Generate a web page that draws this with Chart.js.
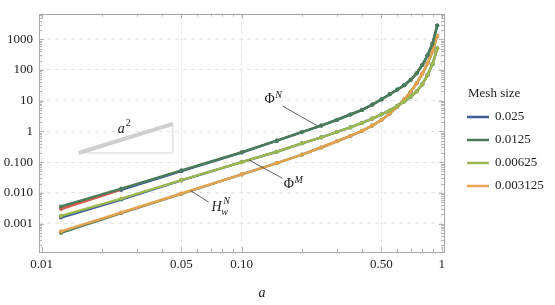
<!DOCTYPE html>
<html>
<head>
<meta charset="utf-8">
<script src="https://cdn.jsdelivr.net/npm/chart.js@4"></script>
<style>
  html, body { margin: 0; padding: 0; background: #fff; }
  #wrap { width: 555px; height: 305px; }
</style>
</head>
<body>
<div id="wrap"><canvas id="chart" width="555" height="305"></canvas></div>
<script>
// crack length a (x) and the three quantities per mesh size
const aValues = [0.0125, 0.025, 0.05, 0.1, 0.15, 0.2, 0.25, 0.3, 0.35, 0.4, 0.45,
                 0.5, 0.55, 0.6, 0.65, 0.7, 0.75, 0.8, 0.85, 0.9, 0.95];

const phiN_0125 = [0.0036, 0.0138, 0.054, 0.21, 0.5, 0.95, 1.55, 2.4, 3.55, 5.0, 7.4,
                   11, 16.3, 23, 32, 48, 78, 145, 300, 720, 2800];
const phiN_025  = [null, 0.0126, 0.051, 0.205, 0.5, 0.95, 1.55, 2.4, 3.55, 5.0, 7.4,
                   11, 16.3, 23, 32, 48, 78, 145, 300, 720, 2800];
const phiN_red  = [0.0030, 0.0128];

const phiM_00625 = [0.00178, 0.0065, 0.026, 0.1, 0.218, 0.41, 0.64, 0.97, 1.35, 1.9, 2.6,
                    3.6, 4.8, 6.8, 9.5, 13.5, 20, 34, 68, 155, 506];
const phiM_025   = [0.00158, 0.0061, 0.0255, 0.1, 0.218, 0.41, 0.64, 0.97, 1.35, 1.9, 2.6,
                    3.6, 4.8, 6.8, 9.5, 13.5, 20, 34, 68, 155, 506];

const hw_003125 = [0.00056, 0.0023, 0.0095, 0.04, 0.093, 0.175, 0.30, 0.48, 0.72, 1.05, 1.55,
                   2.35, 3.8, 6.4, 11, 19.5, 37, 75, 165, 400, 1280];
const hw_0125   = [0.00050, 0.0022, 0.0093, 0.04, 0.093, 0.175, 0.30, 0.48, 0.72, 1.05, 1.55,
                   2.35, 3.8, 6.4, 11, 19.5, 37, 75, 165, 400, 1280];

// a^2 slope guide
const slopeX = [0.0153, 0.0453];
const slopeY = [0.199, 1.75];

const meshSizes  = ['0.025', '0.0125', '0.00625', '0.003125'];
const meshColors = ['#3f5f9e', '#4b7c58', '#9db84d', '#e5a24f'];
const redColor = '#d65a4a';

const xTickValues = [0.01, 0.05, 0.1, 0.5, 1];
const xTickLabels = ['0.01', '0.05', '0.10', '0.50', '1'];
const yTickValues = [0.001, 0.01, 0.1, 1, 10, 100, 1000];
const yTickLabels = ['0.001', '0.010', '0.100', '1', '10', '100', '1000'];

const FONT = '"Liberation Serif", "DejaVu Serif", serif';

function pts(xs, ys) {
  return ys.map((v, i) => ({ x: xs[i], y: v })).filter(p => p.y !== null);
}

function series(data, color, order) {
  return {
    data, borderColor: color, backgroundColor: color,
    pointBackgroundColor: color, pointBorderColor: color,
    borderWidth: 2.5, pointRadius: 2.1, pointBorderWidth: 0, tension: 0, order
  };
}

const datasets = [
  series(pts(aValues, phiN_0125), meshColors[1], 1),
  series(pts(aValues, phiN_025), meshColors[0], 5),
  series(pts(aValues, phiN_red), redColor, 6),
  series(pts(aValues, phiM_00625), meshColors[2], 2),
  series(pts(aValues, phiM_025), meshColors[0], 7),
  series(pts(aValues, hw_003125), meshColors[3], 3),
  series(pts(aValues, hw_0125), meshColors[1], 8),
  { data: pts(slopeX, slopeY), borderColor: '#cfcfcf', borderWidth: 4, pointRadius: 0, order: 9 },
  { data: [{ x: slopeX[0], y: slopeY[0] }, { x: slopeX[1], y: slopeY[0] }, { x: slopeX[1], y: slopeY[1] }],
    borderColor: '#d4d4d4', borderWidth: 1, pointRadius: 0, order: 10 }
];

// frame, minor ticks, labels, legend
const decor = {
  id: 'decor',
  beforeDatasetsDraw(chart) {
    const { ctx, chartArea: ca, scales: { x, y } } = chart;
    ctx.save();
    ctx.strokeStyle = '#b5b5b5';
    ctx.lineWidth = 1;
    const xm = [];
    for (let e = -2; e <= -1; e++) for (let m = 1; m <= 9; m++) xm.push(m * Math.pow(10, e));
    xm.push(1);
    xm.forEach(v => {
      const p = Math.round(x.getPixelForValue(v)) + 0.5;
      if (p < ca.left || p > ca.right) return;
      const len = [0.01, 0.05, 0.1, 0.5, 1].some(t => Math.abs(t - v) < 1e-9) ? 5 : 3;
      ctx.beginPath();
      ctx.moveTo(p, ca.bottom); ctx.lineTo(p, ca.bottom - len);
      ctx.moveTo(p, ca.top); ctx.lineTo(p, ca.top + len);
      ctx.stroke();
    });
    for (let e = -4; e <= 3; e++) {
      for (let m = 1; m <= 9; m++) {
        const v = m * Math.pow(10, e);
        const p = Math.round(y.getPixelForValue(v)) + 0.5;
        if (p < ca.top || p > ca.bottom) continue;
        const len = m === 1 ? 5 : 3;
        ctx.beginPath();
        ctx.moveTo(ca.left, p); ctx.lineTo(ca.left + len, p);
        ctx.moveTo(ca.right, p); ctx.lineTo(ca.right - len, p);
        ctx.stroke();
      }
    }
    ctx.strokeStyle = '#a8a8a8';
    ctx.strokeRect(Math.round(ca.left) + 0.5, Math.round(ca.top) + 0.5,
                   Math.round(ca.right - ca.left), Math.round(ca.bottom - ca.top));
    ctx.restore();
  },
  afterDatasetsDraw(chart) {
    const { ctx, scales: { x, y } } = chart;
    const P = (a, b) => [x.getPixelForValue(a), y.getPixelForValue(b)];
    ctx.save();
    // leader lines
    ctx.strokeStyle = '#3a3a3a';
    ctx.lineWidth = 0.8;
    [[[0.160, 6.74], [0.240, 1.5]],
     [[0.1084, 0.119], [0.160, 0.0297]],
     [[0.0555, 0.0118], [0.0684, 0.0050]]].forEach(([s, e]) => {
      const [x1, y1] = P(s[0], s[1]);
      const [x2, y2] = P(e[0], e[1]);
      ctx.beginPath(); ctx.moveTo(x1, y1); ctx.lineTo(x2, y2); ctx.stroke();
    });
    ctx.fillStyle = '#222';
    ctx.textAlign = 'center';
    ctx.textBaseline = 'middle';
    const put = (t, px, py, size, italic) => {
      ctx.font = (italic ? 'italic ' : '') + size + 'px ' + FONT;
      ctx.fillText(t, px, py);
    };
    let [px, py] = P(0.138, 11.2);
    put('\u03A6', px, py, 14, false); put('N', px + 9, py - 4, 10, true);
    [px, py] = P(0.172, 0.0191);
    put('\u03A6', px, py, 14, false); put('M', px + 10, py - 4, 10, true);
    [px, py] = P(0.075, 0.0033);
    put('H', px, py, 14, true); put('N', px + 10, py - 6, 10, true); put('w', px + 8, py + 5, 10, true);
    [px, py] = P(0.025, 1.16);
    put('a', px, py, 14, true); put('2', px + 7, py - 6, 10, false);
    // axis title
    put('a', 262, 293, 14, true);
    // legend
    ctx.textAlign = 'left';
    put('Mesh size', 468, 94, 13, false);
    meshSizes.forEach((m, i) => {
      const ly = 117 + i * 23;
      ctx.strokeStyle = meshColors[i];
      ctx.lineWidth = 2.5;
      ctx.beginPath(); ctx.moveTo(467, ly); ctx.lineTo(489, ly); ctx.stroke();
      put(m, 495, ly, 13, false);
    });
    ctx.restore();
  }
};

new Chart(document.getElementById('chart').getContext('2d'), {
  type: 'line',
  data: { datasets },
  options: {
    responsive: false,
    animation: false,
    layout: { padding: { left: 0, top: 8, right: 111, bottom: 0 } },
    plugins: { legend: { display: false }, tooltip: { enabled: false } },
    scales: {
      x: {
        type: 'logarithmic', min: 0.0097, max: 1.027, bounds: 'data',
        afterBuildTicks: s => { s.ticks = xTickValues.map(v => ({ value: v })); },
        afterFit: s => { s.height = 53; },
        ticks: {
          autoSkip: false, maxRotation: 0, padding: 5, color: '#222',
          font: { family: FONT, size: 13 },
          callback: (v, i) => xTickLabels[i]
        },
        grid: { color: '#e4e4e4', lineWidth: 1, drawTicks: false },
        border: { display: false, dash: [4, 4] }
      },
      y: {
        type: 'logarithmic', min: 0.000119, max: 6740, bounds: 'data',
        afterBuildTicks: s => { s.ticks = yTickValues.map(v => ({ value: v })); },
        afterFit: s => { s.width = 39; },
        ticks: {
          autoSkip: false, padding: 6, color: '#222',
          font: { family: FONT, size: 13 },
          callback: (v, i) => yTickLabels[i]
        },
        grid: { color: '#e4e4e4', lineWidth: 1, drawTicks: false },
        border: { display: false, dash: [4, 4] }
      }
    }
  },
  plugins: [decor]
});
</script>
</body>
</html>
